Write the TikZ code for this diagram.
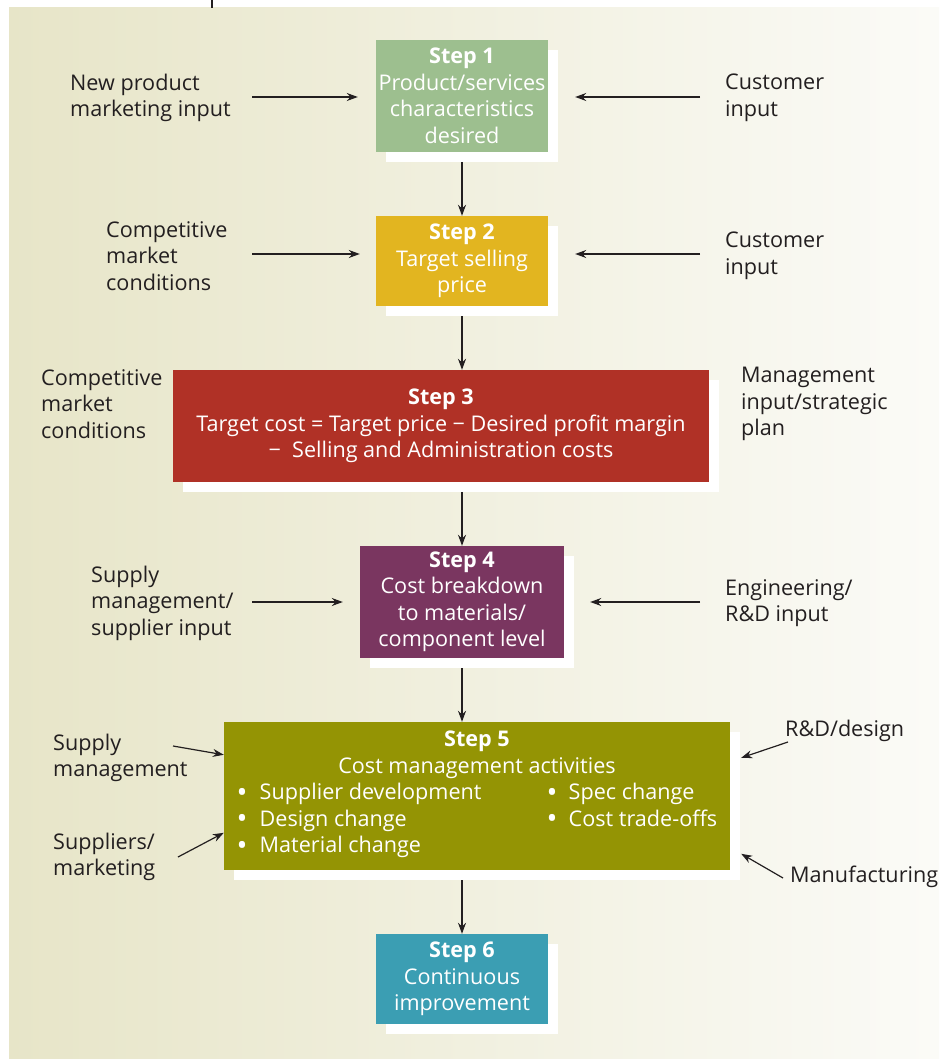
\documentclass[tikz,border=0pt]{standalone}
\usepackage{fontspec}
\setmainfont{Open Sans}
\usepackage{tikz}
\usetikzlibrary{positioning, arrows.meta, shadows}
\definecolor{bgleft}{RGB}{231,229,200}
\definecolor{bgright}{RGB}{251,251,247}
\definecolor{stepgreen}{RGB}{157,191,143}
\definecolor{stepyellow}{RGB}{226,181,32}
\definecolor{stepred}{RGB}{176,49,38}
\definecolor{steppurple}{RGB}{122,54,96}
\definecolor{stepolive}{RGB}{148,148,4}
\definecolor{stepteal}{RGB}{59,158,179}
\definecolor{labelgray}{RGB}{35,31,32}
\newcommand{\stepfont}{\fontsize{21.6}{26.5}\selectfont}
\newcommand{\bul}[1]{\makebox[#1][l]{\raisebox{-2.6pt}{\fontsize{29}{26.5}\selectfont •}}}

\begin{document}
\begin{tikzpicture}[x=1pt, y=-1pt,
    stepbox/.style={text=white, align=center, font=\stepfont, inner sep=0pt,
        general shadow={fill=white, shadow xshift=10pt, shadow yshift=-10pt}},
    sidelabel/.style={anchor=west, align=left, font=\stepfont, text=labelgray, inner sep=0pt},
    flow/.style={-{Stealth[length=11pt, width=8pt]}, line width=1.2pt, labelgray}]
  \useasboundingbox (0,0) rectangle (939,1059);
  \shade[left color=bgleft, right color=bgright] (9,8) rectangle (939,1059);
  \draw[line width=1.2pt, labelgray] (212,0) -- (212,8);

  \node[stepbox, fill=stepgreen, minimum width=172pt, minimum height=112pt] (s1) at (462,96)
        {\textbf{Step 1}\\Product/services\\characteristics\\desired};
  \node[stepbox, fill=stepyellow, minimum width=172pt, minimum height=90pt] (s2) at (462,261)
        {\textbf{Step 2}\\Target selling\\price};
  \node[stepbox, fill=stepred, minimum width=536pt, minimum height=112pt] (s3) at (441,426)
        {\textbf{Step 3}\\Target cost = Target price − Desired profit margin\\−\ \ Selling and Administration costs};
  \node[stepbox, fill=steppurple, minimum width=204pt, minimum height=112pt] (s4) at (462,602)
        {\textbf{Step 4}\\Cost breakdown\\to materials/\\component level};
  \node[stepbox, fill=stepolive, minimum width=506pt, minimum height=148pt] (s5) at (477,796)
        {\textbf{Step 5}\\Cost management activities\\
         \begin{tabular}[t]{@{}p{310pt}@{}l@{}}
           \bul{23pt}Supplier development & \bul{22pt}Spec change\\
           \bul{23pt}Design change & \bul{22pt}Cost trade-offs\\
           \bul{23pt}Material change &
         \end{tabular}};
  \node[stepbox, fill=stepteal, minimum width=172pt, minimum height=90pt] (s6) at (462,979)
        {\textbf{Step 6}\\Continuous\\improvement};

  \draw[flow] ([yshift=-10pt]s1.south) -- (s2.north);
  \draw[flow] ([yshift=-10pt]s2.south) -- (s2.south |- s3.north);
  \draw[flow] ([yshift=-10pt]s2.south |- s3.south) -- (s4.north);
  \draw[flow] ([yshift=-10pt]s4.south) -- (s4.south |- s5.north);
  \draw[flow] ([yshift=-10pt]s6.north |- s5.south) -- (s6.north);

  \node[sidelabel] (l1) at (70,98) {New product\\marketing input};
  \node[sidelabel] (r1) at (725,98) {Customer\\input};
  \node[sidelabel] (l2) at (106,256) {Competitive\\market\\conditions};
  \node[sidelabel] (r2) at (725,256) {Customer\\input};
  \node[sidelabel] (l3) at (41,404) {Competitive\\market\\conditions};
  \node[sidelabel] (r3) at (741,404) {Management\\input/strategic\\plan};
  \node[sidelabel] (l4) at (91,603) {Supply\\management/\\supplier input};
  \node[sidelabel] (r4) at (725,603) {Engineering/\\R\&D input};
  \node[sidelabel] (l5a) at (53,758) {Supply\\management};
  \node[sidelabel] (l5b) at (53,857) {Suppliers/\\marketing};
  \node[sidelabel] (r5a) at (785,731) {R\&D/design};
  \node[sidelabel] (r5b) at (790,877) {Manufacturing};

  \coordinate (t1l) at (252,97);
  \coordinate (t1r) at (700,97);
  \coordinate (t2l) at (252,254);
  \coordinate (t2r) at (700,254);
  \coordinate (t4l) at (252,602);
  \coordinate (t4r) at (700,602);
  \coordinate (t5a) at (173,746);
  \coordinate (t5b) at (178,857);
  \coordinate (t5c) at (788,742);
  \coordinate (t5d) at (783,878);
  \draw[flow, shorten >=18pt] (t1l) -- (t1l -| s1.west);
  \draw[flow, shorten >=27pt] (t1r) -- (t1r -| s1.east);
  \draw[flow, shorten >=16pt] (t2l) -- (t2l -| s2.west);
  \draw[flow, shorten >=27pt] (t2r) -- (t2r -| s2.east);
  \draw[flow, shorten >=17pt] (t4l) -- (t4l -| s4.west);
  \draw[flow, shorten >=26pt] (t4r) -- (t4r -| s4.east);
  \draw[flow] (t5a) -- ([yshift=-33pt]s5.north west);
  \draw[flow] (t5b) -- ([yshift=-111pt]s5.north west);
  \draw[flow] (t5c) -- ([xshift=11pt, yshift=-36pt]s5.north east);
  \draw[flow] (t5d) -- ([xshift=11pt, yshift=-132pt]s5.north east);
\end{tikzpicture}
\end{document}
